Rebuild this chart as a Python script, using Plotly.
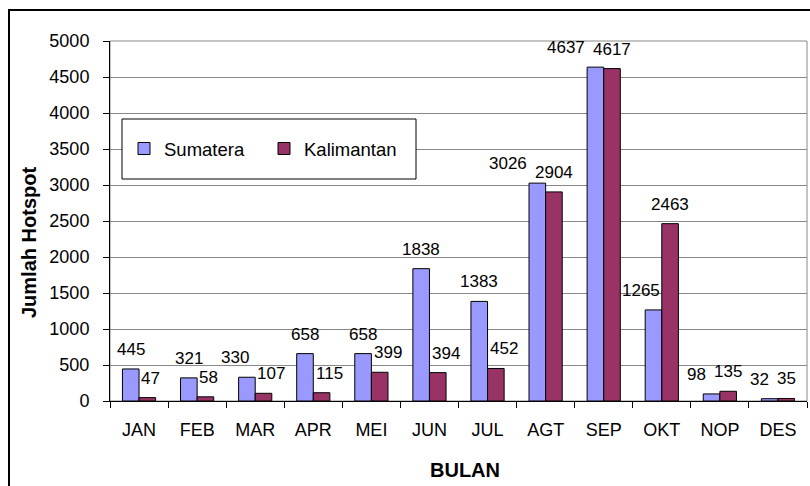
import plotly.graph_objects as go

months = ["JAN", "FEB", "MAR", "APR", "MEI", "JUN", "JUL", "AGT", "SEP", "OKT", "NOP", "DES"]
sumatera = [445, 321, 330, 658, 658, 1838, 1383, 3026, 4637, 1265, 98, 32]
kalimantan = [47, 58, 107, 115, 399, 394, 452, 2904, 4617, 2463, 135, 35]
y_ticks = list(range(0, 5001, 500))

W, H = 810, 486
L, R, T, B = 110, 3, 41, 85
pw, ph = W - L - R, H - T - B
YMAX = 5000

def px_x(v):
    return (v - L) / pw

def px_y(v):
    return (H - B - v) / ph

FONT = "Liberation Sans, Arial, sans-serif"
BLUE = "#9999FF"
PLUM = "#993366"
bargap = 0.4286
bar_px = pw / len(months) * (1 - bargap) / 2   # width of one bar in px
LBL = 17                                     # data label font size
GAP_Y = 10                                   # label gap above bar
unit = ph / YMAX

def lw(v):
    return len(str(v)) * 0.556 * LBL

# Excel-like label placement: move labels clear of a taller neighbouring bar
# and push apart labels that collide with each other.
shift_s, shift_k = [], []
for s, k in zip(sumatera, kalimantan):
    ws, wk = lw(s), lw(k)
    ds = dk = 0.0
    if k * unit > s * unit + GAP_Y:
        ds = min(0.0, bar_px / 2 - ws / 2 - 2)
    if s * unit > k * unit + GAP_Y:
        dk = max(0.0, wk / 2 - bar_px / 2 + 2)
    if abs(s - k) * unit < LBL:
        need = (ws + wk) / 2 + 8
        dist = bar_px + dk - ds
        if dist < need:
            ds -= need - dist
    shift_s.append(ds)
    shift_k.append(dk)

fig = go.Figure()
fig.add_trace(go.Bar(name="Sumatera", x=months, y=sumatera,
                     marker=dict(color=BLUE, line=dict(color="black", width=1))))
fig.add_trace(go.Bar(name="Kalimantan", x=months, y=kalimantan,
                     marker=dict(color=PLUM, line=dict(color="black", width=1))))

annotations = []
for vals, base, shifts in ((sumatera, -bar_px / 2, shift_s), (kalimantan, bar_px / 2, shift_k)):
    for m, v, d in zip(months, vals, shifts):
        annotations.append(dict(x=m, y=v, xref="x", yref="y", text=str(v), showarrow=False,
                                xshift=base + d, yshift=GAP_Y - 2, yanchor="bottom",
                                font=dict(family=FONT, size=LBL, color="black")))

annotations.append(dict(x=px_x(465), y=px_y(470), xref="paper", yref="paper", text="<b>BULAN</b>",
                        showarrow=False, font=dict(family=FONT, size=20, color="black"),
                        xanchor="center", yanchor="middle"))
annotations.append(dict(x=px_x(29), y=px_y(243), xref="paper", yref="paper", text="<b>Jumlah Hotspot</b>",
                        showarrow=False, textangle=-90, font=dict(family=FONT, size=20, color="black"),
                        xanchor="center", yanchor="middle"))

shapes = [
    dict(type="rect", xref="paper", yref="paper", x0=px_x(9), x1=px_x(814), y0=px_y(10), y1=px_y(492),
         line=dict(color="black", width=2), fillcolor="rgba(0,0,0,0)", layer="below"),
    dict(type="rect", xref="paper", yref="paper", x0=0, x1=1, y0=0, y1=1,
         line=dict(color="#888888", width=1), fillcolor="rgba(0,0,0,0)", layer="below"),
    dict(type="rect", xref="paper", yref="paper", x0=px_x(122), x1=px_x(416), y0=px_y(119), y1=px_y(179),
         line=dict(color="black", width=1), fillcolor="white", layer="above"),
]

fig.update_layout(
    width=W, height=H,
    margin=dict(l=L, r=R, t=T, b=B, pad=0),
    paper_bgcolor="white", plot_bgcolor="white",
    barmode="group", bargap=bargap, bargroupgap=0,
    font=dict(family=FONT, size=18, color="black"),
    showlegend=True,
    legend=dict(orientation="h", x=px_x(124), y=px_y(149), xanchor="left", yanchor="middle",
                bgcolor="rgba(0,0,0,0)", borderwidth=0, font=dict(family=FONT, size=18.5),
                entrywidth=95, entrywidthmode="pixels", traceorder="normal"),
    annotations=annotations,
    shapes=shapes,
    xaxis=dict(showline=True, linecolor="black", linewidth=1, ticks="outside", tickson="boundaries",
               ticklen=6, tickcolor="black", showgrid=False, ticklabelstandoff=12,
               tickfont=dict(family=FONT, size=18)),
    yaxis=dict(range=[0, YMAX], tickvals=y_ticks, showline=True, linecolor="black", linewidth=1,
               ticks="outside", ticklen=6, tickcolor="black", showgrid=True, gridcolor="#888888",
               gridwidth=1, zeroline=False, ticklabelstandoff=10,
               tickfont=dict(family=FONT, size=18)),
)

fig.write_html("out.html", config={"displayModeBar": False},
               post_script="document.body.style.margin='0';document.body.style.overflow='hidden';")
